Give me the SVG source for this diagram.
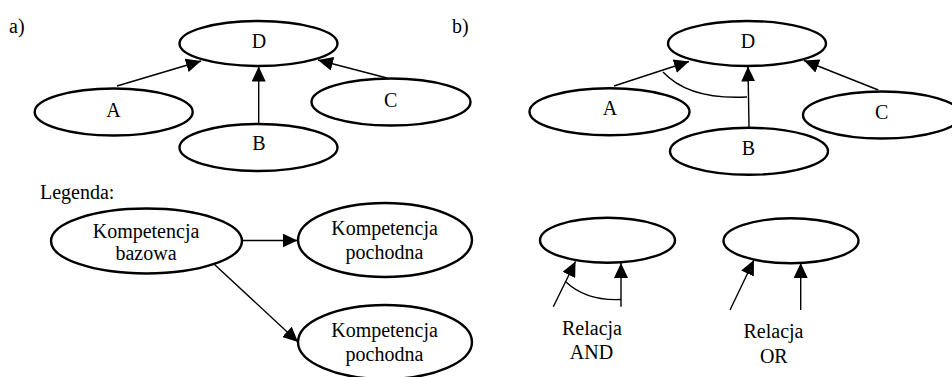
<svg xmlns="http://www.w3.org/2000/svg" width="952" height="377" viewBox="0 0 952 377">
<style>
.n{fill:#fff;stroke:#000;stroke-width:2.4}
.e{fill:none;stroke:#000;stroke-width:1.4}
.a{marker-end:url(#arr)}
.t{font-family:"Liberation Serif",Tinos,"Times New Roman",Times,"Nimbus Roman","Nimbus Roman No9 L",FreeSerif,"Noto Serif","DejaVu Serif",serif;font-size:20px;fill:#000}
.m{text-anchor:middle}
</style>
<defs>
<marker id="arr" markerUnits="userSpaceOnUse" markerWidth="15" markerHeight="14" viewBox="0 0 15 14" refX="15" refY="7" orient="auto">
<path d="M0,0 L15,7 L0,14 z" fill="#000"/>
</marker>
</defs>
<rect width="952" height="377" fill="#fff"/>
<g id="connectors">
<line class="e a" x1="117" y1="86" x2="201" y2="61"/>
<line class="e a" x1="258.7" y1="123" x2="258.7" y2="66.5"/>
<line class="e a" x1="387" y1="78" x2="318" y2="60"/>
<line class="e a" x1="614" y1="86" x2="689" y2="61.5"/>
<line class="e a" x1="749" y1="127" x2="748" y2="66.5"/>
<line class="e a" x1="878.3" y1="90" x2="804" y2="60.5"/>
<path class="e" d="M663,72 Q689,100 747,97"/>
<line class="e a" x1="242.5" y1="240.5" x2="297.5" y2="240.5"/>
<line class="e a" x1="214.5" y1="264.5" x2="298" y2="342"/>
<line class="e a" x1="553.3" y1="306.7" x2="575.5" y2="261.5"/>
<line class="e a" x1="621" y1="306.7" x2="621" y2="263"/>
<path class="e" d="M566,282 Q586.6,301.2 621,299.5"/>
<line class="e a" x1="730" y1="310" x2="754" y2="260"/>
<line class="e a" x1="800.7" y1="310" x2="800.7" y2="263"/>
</g>
<g class="t">
<text x="9" y="33">a)</text>
<text x="452" y="33">b)</text>
<g id="a-D"><ellipse class="n" cx="258.5" cy="43.5" rx="79" ry="22.5"/><text class="m" x="259" y="48.3">D</text></g>
<g id="a-A"><ellipse class="n" cx="113.7" cy="112" rx="79" ry="23.5"/><text class="m" x="113.5" y="116.5">A</text></g>
<g id="a-B"><ellipse class="n" cx="258.5" cy="147.5" rx="79" ry="23.5"/><text class="m" x="259" y="150">B</text></g>
<g id="a-C"><ellipse class="n" cx="391" cy="102" rx="79.5" ry="23.5"/><text class="m" x="390.7" y="106.5">C</text></g>
<g id="b-D"><ellipse class="n" cx="747" cy="43.5" rx="79" ry="22.5"/><text class="m" x="748" y="48.3">D</text></g>
<g id="b-A"><ellipse class="n" cx="609.5" cy="111.7" rx="80" ry="23.5"/><text class="m" x="610" y="115">A</text></g>
<g id="b-B"><ellipse class="n" cx="749" cy="151.3" rx="79" ry="23.5"/><text class="m" x="748.5" y="155">B</text></g>
<g id="b-C"><ellipse class="n" cx="882" cy="115" rx="79" ry="23.5"/><text class="m" x="881.7" y="119">C</text></g>
<text x="40" y="199.3">Legenda:</text>
<g id="leg-base"><ellipse class="n" cx="146.5" cy="241" rx="95.5" ry="32.5"/><text class="m" x="146" y="237.5">Kompetencja</text><text class="m" x="146" y="260">bazowa</text></g>
<g id="leg-der1"><ellipse class="n" cx="385" cy="240" rx="87" ry="37"/><text class="m" x="384.5" y="234.5">Kompetencja</text><text class="m" x="384.5" y="259">pochodna</text></g>
<g id="leg-der2"><ellipse class="n" cx="385" cy="342" rx="87" ry="37"/><text class="m" x="384.5" y="336.7">Kompetencja</text><text class="m" x="384.5" y="361">pochodna</text></g>
<g id="leg-and"><ellipse class="n" cx="607.5" cy="240.3" rx="67.5" ry="22.5"/></g>
<g id="leg-or"><ellipse class="n" cx="791" cy="240.8" rx="67.5" ry="22.5"/></g>
<text class="m" x="592" y="334.5">Relacja</text>
<text class="m" x="591.5" y="359">AND</text>
<text class="m" x="773.5" y="338">Relacja</text>
<text class="m" x="773.8" y="363">OR</text>
</g>
</svg>
